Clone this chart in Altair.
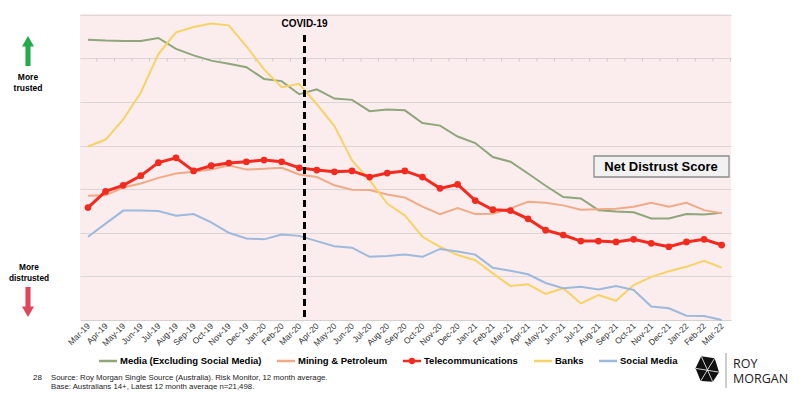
import altair as alt
import pandas as pd

# ---------------- data ----------------
months = ["Mar-19", "Apr-19", "May-19", "Jun-19", "Jul-19", "Aug-19", "Sep-19", "Oct-19",
          "Nov-19", "Dec-19", "Jan-20", "Feb-20", "Mar-20", "Apr-20", "May-20", "Jun-20",
          "Jul-20", "Aug-20", "Sep-20", "Oct-20", "Nov-20", "Dec-20", "Jan-21", "Feb-21",
          "Mar-21", "Apr-21", "May-21", "Jun-21", "Jul-21", "Aug-21", "Sep-21", "Oct-21",
          "Nov-21", "Dec-21", "Jan-22", "Feb-22", "Mar-22"]

media = [6.43, 6.41, 6.40, 6.40, 6.47, 6.22, 6.07, 5.95, 5.88, 5.80, 5.53, 5.48, 5.18,
         5.29, 5.08, 5.05, 4.79, 4.83, 4.81, 4.52, 4.46, 4.21, 4.06, 3.74, 3.63, 3.36,
         3.08, 2.82, 2.79, 2.52, 2.49, 2.47, 2.33, 2.33, 2.43, 2.42, 2.46]
mining = [2.85, 2.86, 3.04, 3.13, 3.26, 3.36, 3.40, 3.45, 3.55, 3.45, 3.47, 3.49, 3.34,
          3.28, 3.09, 2.99, 2.98, 2.88, 2.81, 2.60, 2.43, 2.57, 2.43, 2.44, 2.56, 2.71,
          2.69, 2.63, 2.53, 2.54, 2.55, 2.60, 2.69, 2.60, 2.69, 2.52, 2.45]
telecom = [2.58, 2.95, 3.09, 3.31, 3.61, 3.72, 3.42, 3.54, 3.60, 3.63, 3.67, 3.63, 3.49,
           3.44, 3.40, 3.42, 3.28, 3.37, 3.42, 3.28, 3.02, 3.11, 2.74, 2.53, 2.51, 2.32,
           2.06, 1.95, 1.81, 1.81, 1.79, 1.85, 1.76, 1.68, 1.79, 1.85, 1.72]
banks = [3.98, 4.14, 4.60, 5.22, 6.10, 6.60, 6.72, 6.80, 6.76, 6.28, 5.75, 5.34, 5.42,
         4.95, 4.45, 3.66, 3.21, 2.67, 2.40, 1.91, 1.68, 1.49, 1.37, 1.07, 0.78, 0.82,
         0.60, 0.73, 0.38, 0.57, 0.44, 0.80, 0.99, 1.12, 1.22, 1.36, 1.20]
social = [1.91, 2.21, 2.51, 2.51, 2.50, 2.39, 2.43, 2.24, 2.00, 1.87, 1.85, 1.96, 1.93,
          1.81, 1.69, 1.66, 1.45, 1.47, 1.50, 1.45, 1.63, 1.57, 1.50, 1.20, 1.13, 1.05,
          0.85, 0.73, 0.76, 0.70, 0.78, 0.69, 0.31, 0.27, 0.10, 0.09, 0.00]

series_names = ["Media (Excluding Social Media)", "Mining & Petroleum",
                "Telecommunications", "Banks", "Social Media"]
series_values = [media, mining, telecom, banks, social]
colors = ["#8fa67b", "#f0aa86", "#f52a1f", "#f7d365", "#9db9dc"]

covid_x = 12.3
covid_label = "COVID-19"
box_label = "Net Distrust Score"

# ---------------- tables ----------------
rows = []
for name, vals in zip(series_names, series_values):
    for i, v in enumerate(vals):
        rows.append({"idx": i, "month": months[i], "series": name, "value": v})
df = pd.DataFrame(rows)
df_other = df[df.series != "Telecommunications"]
df_tel = df[df.series == "Telecommunications"]

SANS = "Liberation Sans, Arial"

label_arr = "[" + ",".join("'%s'" % m for m in months) + "]"
x_scale = alt.Scale(domain=[-0.455, 36.53], nice=False, zero=False)
x_axis = alt.Axis(values=list(range(len(months))),
                  labelExpr=label_arr + "[datum.value]",
                  labelAngle=-45, labelAlign="right", labelBaseline="middle",
                  labelFontSize=8.5, labelFont=SANS, labelColor="#333333",
                  labelPadding=4, ticks=False, grid=False,
                  domainColor="#d6d0d1", title=None, labelOverlap=False)
y_scale = alt.Scale(domain=[0, 7.02], nice=False, zero=True)
y_axis = alt.Axis(values=[1, 2, 3, 4, 5, 6, 7], labels=False, ticks=False,
                  domain=False, grid=True, gridColor="#ddd6d7",
                  gridWidth=1, title=None)


def X(field="idx"):
    return alt.X(field + ":Q", scale=x_scale, axis=x_axis)


def Y(field="value"):
    return alt.Y(field + ":Q", scale=y_scale, axis=y_axis)


color_enc = alt.Color("series:N", scale=alt.Scale(domain=series_names, range=colors),
                      legend=None)

lines = alt.Chart(df_other).mark_line(strokeWidth=2).encode(
    x=X(), y=Y(), color=color_enc, detail="series:N")

tel_line = alt.Chart(df_tel).mark_line(strokeWidth=3, color=colors[2]).encode(
    x=X(), y=Y())
tel_pts = alt.Chart(df_tel).mark_point(filled=True, size=45, opacity=1,
                                       color=colors[2]).encode(x=X(), y=Y())

# small tick marks along the 6 gridline (category boundaries)
tick_df = pd.DataFrame({"idx": [i + 0.5 for i in range(len(months))]})
tick_df["value"] = 6.0
tick_df["value2"] = 5.93
ticks6 = alt.Chart(tick_df).mark_rule(color="#cfc9ca", strokeWidth=1).encode(
    x=X(), y=Y(), y2="value2:Q")

# COVID line
covid_df = pd.DataFrame({"idx": [covid_x], "value": [6.54], "value2": [0.0],
                         "label_y": [6.79], "t": [covid_label]})
covid_rule = alt.Chart(covid_df).mark_rule(color="black", strokeWidth=3,
                                           strokeDash=[7, 4]).encode(
    x=X(), y=Y(), y2="value2:Q")
covid_text = alt.Chart(covid_df).mark_text(font=SANS, fontWeight="bold", fontSize=10,
                                           color="black", baseline="middle").encode(
    x=X(), y=Y("label_y"), text="t:N")

one = pd.DataFrame({"k": [0]})


def txt(s, x, y, size, weight="normal", font=SANS, color="#000000", align="left",
        baseline="middle", **kw):
    return alt.Chart(pd.DataFrame({"t": [s]})).mark_text(
        font=font, fontSize=size, fontWeight=weight, color=color, align=align,
        baseline=baseline, **kw).encode(x=alt.value(x), y=alt.value(y), text="t:N")


# Net Distrust Score box
box = alt.Chart(one).mark_rect(fill="#f1f1f1", stroke="#8c8c8c", strokeWidth=1.3).encode(
    x=alt.value(514), x2=alt.value(649), y=alt.value(142), y2=alt.value(163))
box_text = txt(box_label, 581, 153, 13, weight="bold", align="center")

# side arrows and labels
up_arrow = "M -0.17 1 L 0.17 1 L 0.17 -0.3 L 0.4 -0.3 L 0 -1 L -0.4 -0.3 L -0.17 -0.3 Z"
down_arrow = "M -0.17 -1 L 0.17 -1 L 0.17 0.3 L 0.4 0.3 L 0 1 L -0.4 0.3 L -0.17 0.3 Z"
green_arrow = alt.Chart(one).mark_point(shape=up_arrow, filled=True, size=900, opacity=1,
                                        color="#22aa4b", strokeWidth=0).encode(
    x=alt.value(-52), y=alt.value(37))
red_arrow = alt.Chart(one).mark_point(shape=down_arrow, filled=True, size=900, opacity=1,
                                      color="#e0455b", strokeWidth=0).encode(
    x=alt.value(-52), y=alt.value(288))
more_trusted = txt("More\ntrusted", -52, 63, 8.5, weight="bold", align="center",
                   lineBreak="\n", lineHeight=11)
more_dis = txt("More\ndistrusted", -51, 254, 8.3, weight="bold", align="center",
               lineBreak="\n", lineHeight=11)

# custom legend
legend_sample_x = [19, 197, 323, 454, 519]
legend_text_x = [40, 218, 344, 475, 540]
legend_y = 347
legend_layers = []
for name, col, sx, tx in zip(series_names, colors, legend_sample_x, legend_text_x):
    legend_layers.append(alt.Chart(one).mark_rule(color=col, strokeWidth=2.5).encode(
        x=alt.value(sx), x2=alt.value(sx + 18), y=alt.value(legend_y)))
    legend_layers.append(txt(name, tx, legend_y, 9.5, weight="bold"))
legend_layers.append(alt.Chart(one).mark_point(filled=True, size=40, opacity=1,
                                               color=colors[2]).encode(
    x=alt.value(332), y=alt.value(legend_y)))

# footer
footer = [
    txt("28", -47, 364, 8, color="#222222"),
    txt("Source: Roy Morgan Single Source (Australia). Risk Monitor, 12 month average.\n"
        "Base: Australians 14+, Latest 12 month average n=21,498.",
        -29, 364, 7.8, color="#222222", lineBreak="\n", lineHeight=9, baseline="middle"),
]

# logo
logo_path = "M -0.45 -1 L 0.6 -0.85 L 0.95 0.25 L 0.45 1 L -0.5 0.95 L -0.9 -0.05 Z"
logo_lines = "M -0.45 -1 L 0.45 1 M -0.9 -0.05 L 0.95 0.25 M 0.6 -0.85 L -0.5 0.95"
logo = [
    alt.Chart(one).mark_point(shape=logo_path, filled=True, size=650, opacity=1,
                              color="#111111", strokeWidth=0).encode(
        x=alt.value(627), y=alt.value(355)),
    alt.Chart(one).mark_point(shape=logo_lines, filled=False, size=650, opacity=1,
                              color="#ffffff", strokeWidth=0.8).encode(
        x=alt.value(627), y=alt.value(355)),
    alt.Chart(one).mark_rule(color="#9a9a9a", strokeWidth=1).encode(
        x=alt.value(646), y=alt.value(339), y2=alt.value(374)),
    txt("ROY\nMORGAN", 653, 354, 12.5, font="Open Sans, Liberation Sans",
        color="#222222", baseline="alphabetic", lineBreak="\n", lineHeight=14.5),
]

chart = alt.layer(
    lines, ticks6, tel_line, tel_pts, covid_rule, covid_text, box, box_text,
    green_arrow, red_arrow, more_trusted, more_dis,
    *legend_layers, *footer, *logo
).properties(
    width=651, height=306,
    autosize=alt.AutoSizeParams(type="none"),
    padding={"left": 72, "top": 6, "right": 61, "bottom": 70},
    background="white",
).configure_view(fill="#fbecee", stroke=None).configure_axisX(labelOverlap=False)

chart.save("out.html", embed_options={"renderer": "svg", "actions": False})
